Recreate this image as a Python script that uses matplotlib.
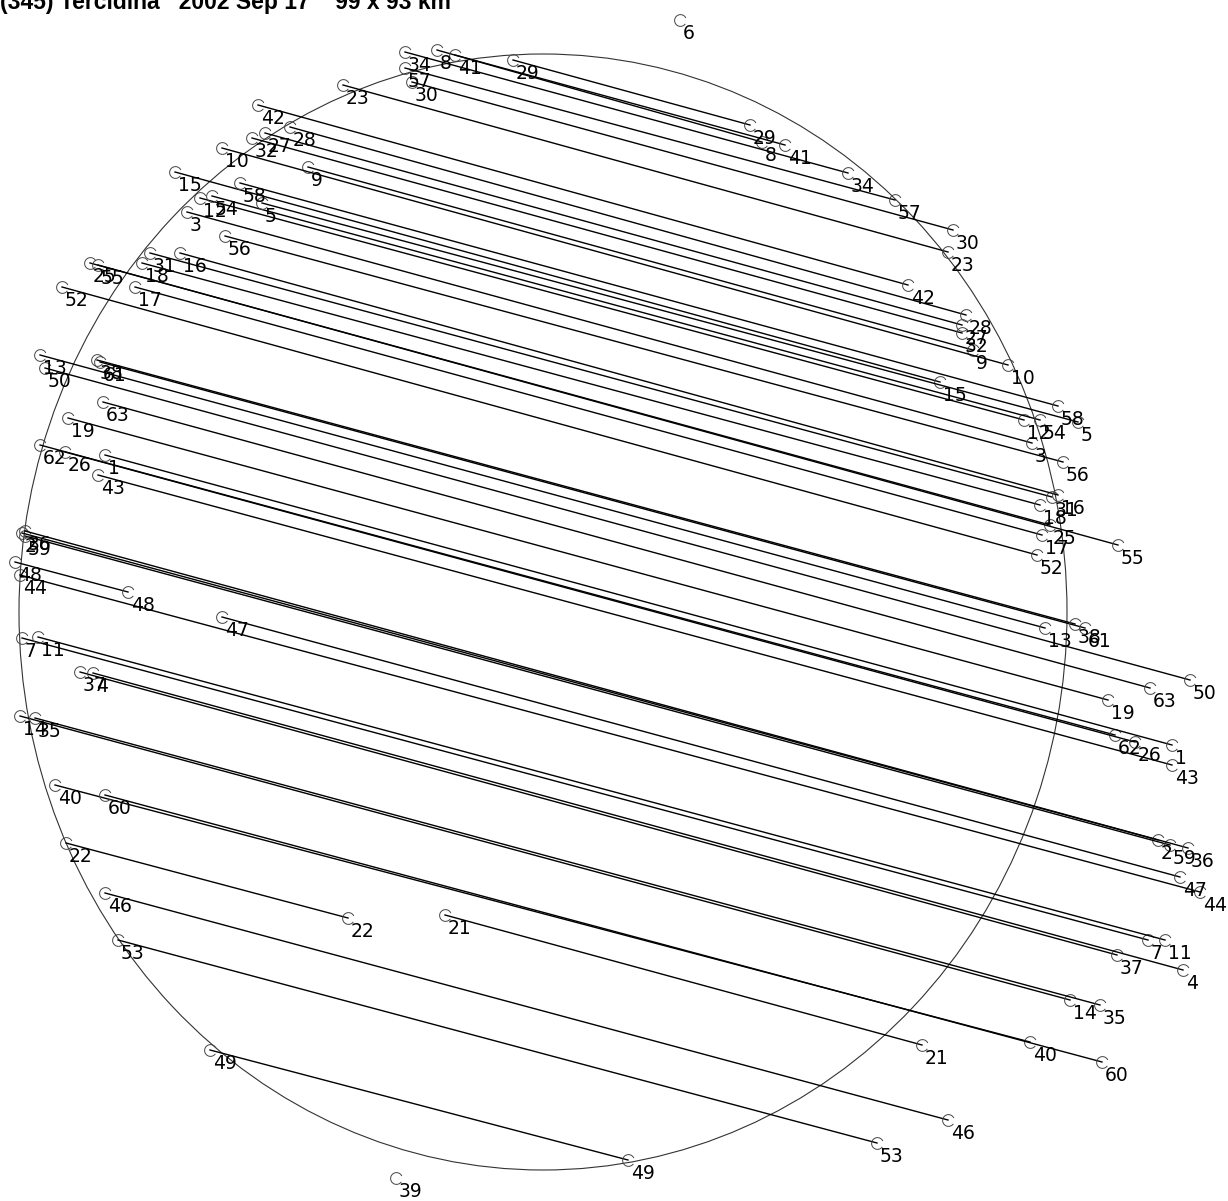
import matplotlib.pyplot as plt
from matplotlib.patches import Ellipse
from matplotlib.path import Path

# chord end points (observer id, left end x/y, right end x/y) in plot units
chord_ids = [29, 8, 41, 34, 57, 30, 23, 42, 28, 27, 32, 9, 10, 15, 58, 12, 54, 5, 3, 56,
             31, 18, 16, 25, 55, 17, 52, 13, 61, 38, 50, 63, 19, 62, 26, 1, 43,
             2, 59, 36, 48, 47, 44, 7, 11, 37, 4, 14, 35, 40, 60, 22, 21, 46, 53, 49]
x_left = [513, 437, 455, 405, 405, 412, 343, 258, 290, 265, 252, 308, 222, 175, 240, 200, 212, 262, 187, 225,
          150, 142, 180, 90, 98, 135, 62, 40, 100, 97, 45, 103, 68, 40, 65, 105, 98,
          22, 25, 25, 15, 222, 20, 22, 38, 80, 93, 20, 35, 55, 105, 66, 445, 105, 118, 210]
y_left = [60, 50, 55, 52, 68, 82, 85, 105, 127, 133, 138, 167, 148, 172, 183, 198, 196, 203, 212, 236,
          253, 263, 253, 263, 265, 287, 287, 355, 362, 360, 368, 402, 418, 445, 452, 455, 475,
          533, 536, 531, 562, 617, 575, 638, 637, 672, 673, 716, 718, 785, 795, 843, 915, 893, 940, 1050]
x_right = [750, 762, 785, 848, 895, 953, 948, 908, 966, 962, 962, 973, 1008, 940, 1058, 1024, 1040, 1078, 1032, 1063,
           1052, 1040, 1058, 1050, 1118, 1042, 1037, 1045, 1085, 1075, 1190, 1150, 1108, 1115, 1135, 1172, 1172,
           1158, 1170, 1188, 128, 1180, 1200, 1148, 1165, 1117, 1183, 1070, 1100, 1030, 1102, 348, 922, 948, 877, 628]
y_right = [125, 142, 145, 173, 200, 230, 252, 285, 315, 325, 333, 350, 365, 382, 406, 420, 420, 422, 443, 462,
           497, 505, 495, 525, 545, 535, 555, 628, 628, 624, 680, 688, 700, 735, 742, 745, 765,
           840, 845, 848, 592, 877, 892, 940, 940, 955, 970, 1000, 1005, 1042, 1062, 918, 1045, 1120, 1143, 1160]

# observers that saw no event
miss_ids = [6, 39]
miss_x = [680, 396]
miss_y = [20, 1178]

title = "(345) Tercidina   2002 Sep 17    99 x 93 km"

# fitted outline
ell_center = (543, 612)
ell_width = 1048
ell_height = 1116

fig = plt.figure(figsize=(12.28, 12.01), dpi=100)
ax = fig.add_axes([0, 0, 1, 1])
ax.set_xlim(0, 1228)
ax.set_ylim(1201, 0)
ax.axis('off')

ax.add_patch(Ellipse(ell_center, ell_width, ell_height, fill=False, ec='#333333', lw=0.8))

lab_font = dict(family=['Liberation Sans Narrow', 'DejaVu Sans'], fontsize=13.5, color='black')
open_c = Path.arc(25, 325)  # small "C" shaped end mark


def end_mark(x, y, name):
    ax.plot([x], [y], marker=open_c, ms=8.5, mfc='none', mec='#444444', mew=0.7, ls='none')
    ax.annotate(str(name), (x, y), xytext=(2, -3), textcoords='offset points',
                ha='left', va='top', **lab_font)


for cid, xl, yl, xr, yr in zip(chord_ids, x_left, y_left, x_right, y_right):
    ax.plot([xl, xr], [yl, yr], color='black', lw=1.0)
    end_mark(xl, yl, cid)
    end_mark(xr, yr, cid)

for mid, mx, my in zip(miss_ids, miss_x, miss_y):
    end_mark(mx, my, mid)

ax.text(0, 8.5, title, ha='left', va='baseline', fontsize=16.5, fontweight='bold',
        family=['Liberation Sans', 'DejaVu Sans'])

fig.savefig('out.png', dpi=100)
